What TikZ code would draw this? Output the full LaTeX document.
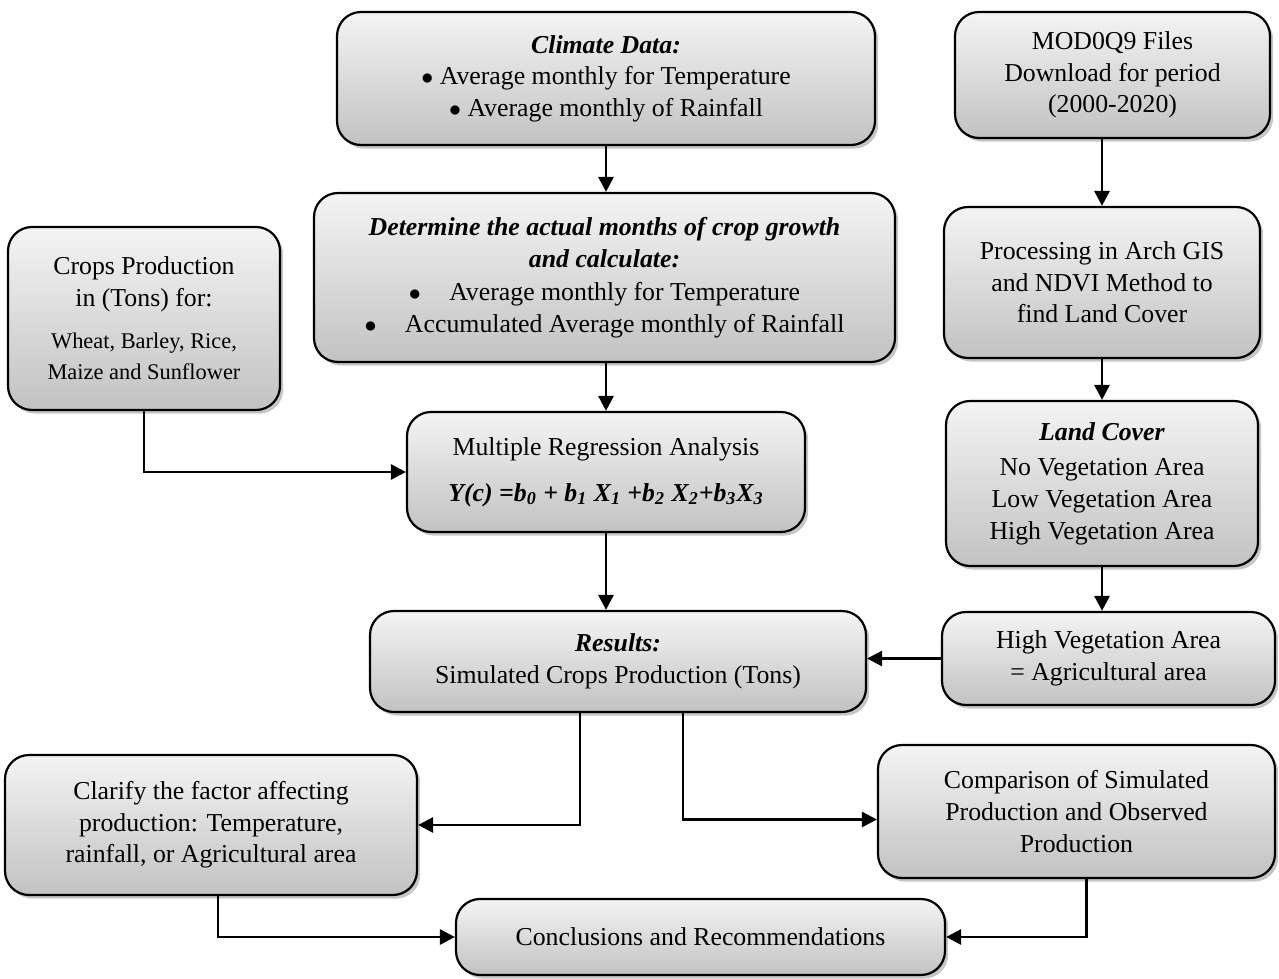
\documentclass[tikz,border=0pt]{standalone}
\usepackage{fontspec}
\setmainfont{Liberation Serif}
\usetikzlibrary{shadows,arrows.meta,calc}
\definecolor{boxtop}{HTML}{F4F4F4}
\definecolor{boxbot}{HTML}{C2C2C2}
\tikzset{
  fbox/.style={draw=black, line width=1.1pt, rounded corners=12pt, top color=boxtop, bottom color=boxbot,
    drop shadow={opacity=0.45, shadow xshift=1.6pt, shadow yshift=-1.8pt},
    align=center, inner sep=2pt, font=\fontsize{12.9}{15.8}\selectfont},
  conn/.style={line width=1.4pt, -{Triangle[length=7.5pt,width=7.5pt]}}
}
\newcommand{\bi}[1]{\textbf{\textit{#1}}}
\newcommand{\smallcrop}{\fontsize{11.2}{15.5}\selectfont}
\newcommand{\blt}{$\bullet$}
\begin{document}
\begin{tikzpicture}[x=0.5pt,y=-0.5pt]
\useasboundingbox (0,0) rectangle (1279,979);
\node[fbox, minimum width=269pt, minimum height=66.5pt] (climate) at (606,78.5)
  {\bi{Climate Data:}\\ \blt\ Average monthly for Temperature\\ \blt\ Average monthly of Rainfall};
\node[fbox, minimum width=157.5pt, minimum height=63pt] (mod) at (1112.5,75)
  {MOD0Q9 Files\\ Download for period\\ (2000-2020)};
\node[fbox, minimum width=290.5pt, minimum height=84.5pt] (det) at (604.5,277.5)
  {\bi{Determine the actual months of crop growth}\\ \bi{and calculate:}\\[1pt]
   \blt\hspace{1.1em}Average monthly for Temperature\\
   \blt\hspace{1.1em}Accumulated Average monthly of Rainfall};
\node[fbox, minimum width=158pt, minimum height=75.5pt] (proc) at (1102,282.5)
  {Processing in Arch GIS\\ and NDVI Method to\\ find Land Cover};
\node[fbox, minimum width=136pt, minimum height=91.5pt] (crops) at (144,318.5)
  {Crops Production\\ in (Tons) for:\\[5pt]
   \smallcrop Wheat, Barley, Rice,\\ \smallcrop Maize and Sunflower};
\node[fbox, minimum width=199pt, minimum height=60pt] (mra) at (606,472)
  {Multiple Regression Analysis\\[7pt]
   \bi{Y(c) =b\textsubscript{0} + b\textsubscript{1} X\textsubscript{1} +b\textsubscript{2} X\textsubscript{2}+b\textsubscript{3}X\textsubscript{3}}};
\node[fbox, minimum width=156pt, minimum height=82.5pt] (land) at (1102,483.5)
  {\bi{Land Cover}\\[2pt] No Vegetation Area\\ Low Vegetation Area\\ High Vegetation Area};
\node[fbox, minimum width=248pt, minimum height=50.5pt] (res) at (618,661.5)
  {\bi{Results:}\\ Simulated Crops Production (Tons)};
\node[fbox, minimum width=166.5pt, minimum height=46.5pt] (hv) at (1108.5,658.5)
  {High Vegetation Area\\ = Agricultural area};
\node[fbox, minimum width=206pt, minimum height=70pt] (clar) at (211,825)
  {Clarify the factor affecting\\ production: Temperature,\\ rainfall, or Agricultural area};
\node[fbox, minimum width=198.5pt, minimum height=66.5pt] (comp) at (1076.5,811.5)
  {Comparison of Simulated\\ Production and Observed\\ Production};
\node[fbox, minimum width=244.5pt, minimum height=38pt] (conc) at (700.5,937)
  {Conclusions and Recommendations};

\draw[conn] (climate.south) -- (climate.south |- det.north);
\draw[conn] (proc.north |- mod.south) -- (proc.north);
\draw[conn] (mra.north |- det.south) -- (mra.north);
\draw[conn] (proc.south) -- (land.north);
\draw[conn] (crops.south) |- (mra.west);
\draw[conn] (mra.south) -- (mra.south |- res.north);
\draw[conn] (land.south) -- (land.south |- hv.north);
\draw[conn] (hv.west) -- (hv.west -| res.east);
\draw[conn] ([xshift=-19pt]res.south) |- (clar.east);
\draw[conn] ([xshift=32.5pt]res.south) |- ([yshift=-4pt]comp.west);
\draw[conn] ([xshift=3.5pt]clar.south) |- (conc.west);
\draw[conn] ([xshift=5pt]comp.south) |- (conc.east);
\end{tikzpicture}
\end{document}
